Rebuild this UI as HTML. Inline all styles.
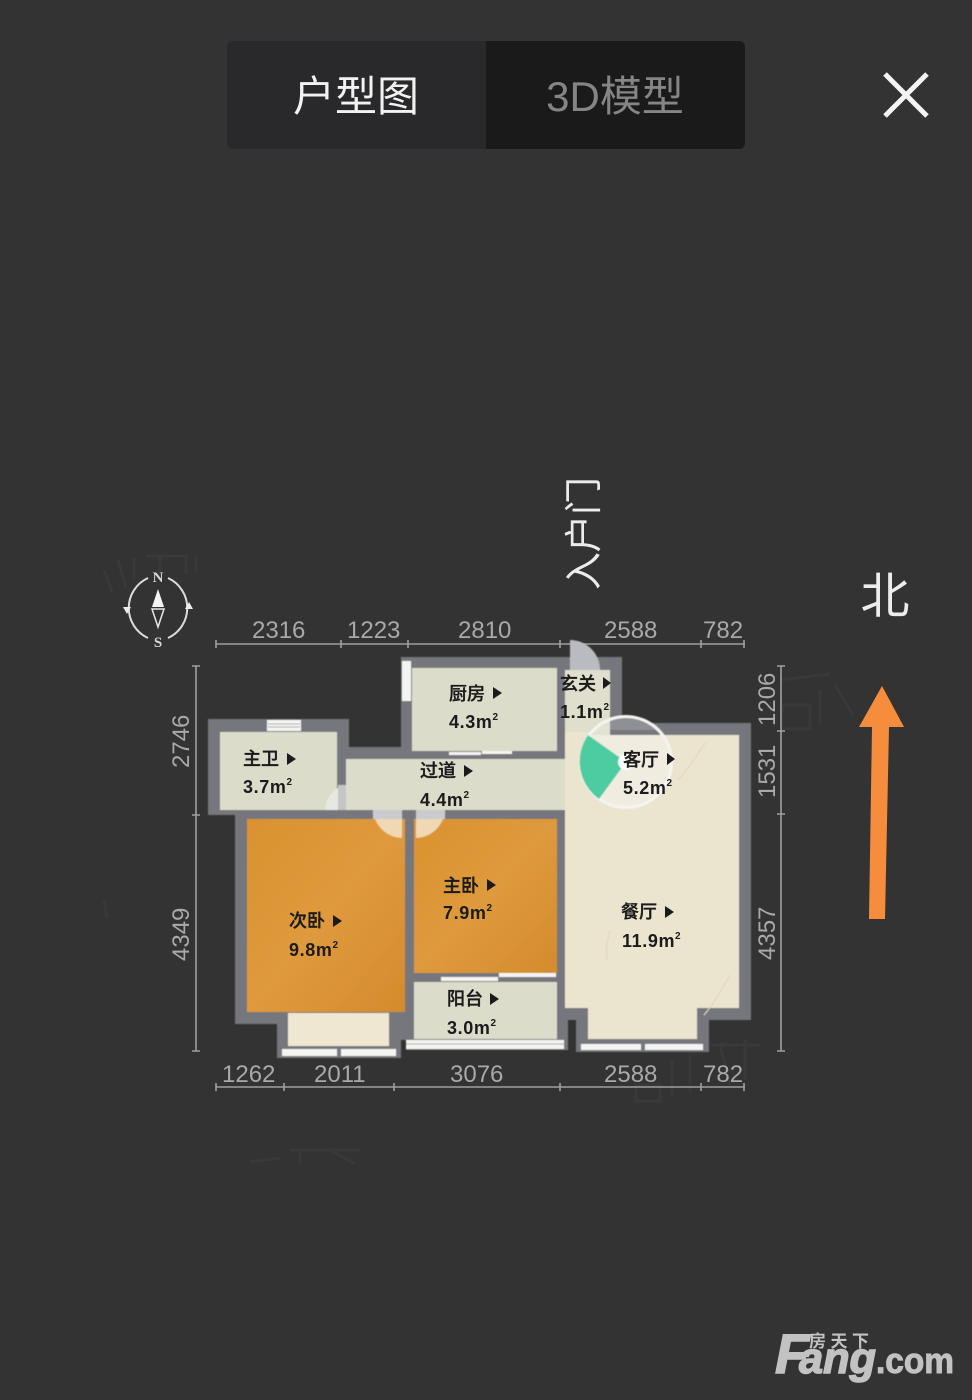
<!DOCTYPE html>
<html><head><meta charset="utf-8"><style>
html,body{margin:0;padding:0;background:#333333;width:972px;height:1400px;overflow:hidden}
svg{display:block;font-family:"Liberation Sans","Noto Sans CJK SC",sans-serif}
.d{font-size:24px;fill:#a9a9a9}
.n{font-size:18px;fill:#1b1b1b;font-weight:500;stroke:#1b1b1b;stroke-width:.35}
.a{font-size:18px;fill:#1b1b1b;font-weight:700;letter-spacing:.6px}
.l{stroke:#a0a0a0;stroke-width:1.6;fill:none}
.w{fill:#f4f4f2}
</style></head><body>
<svg width="972" height="1400" viewBox="0 0 972 1400" xmlns="http://www.w3.org/2000/svg">
<defs>
<linearGradient id="wood" x1="0" y1="0" x2="1" y2="1"><stop offset="0" stop-color="#d9922f"/><stop offset=".5" stop-color="#df9a3d"/><stop offset="1" stop-color="#d48b2c"/></linearGradient>
<filter id="b"><feGaussianBlur stdDeviation=".45"/></filter>
<clipPath id="pano"><circle cx="626" cy="762" r="46"/></clipPath>
</defs>
<rect width="972" height="1400" fill="#333333"/>
<!-- header -->
<rect x="227" y="41" width="518" height="108" rx="6" fill="#29292b"/>
<path d="M486 41H739a6 6 0 0 1 6 6V143a6 6 0 0 1-6 6H486Z" fill="#1a1a1b"/>
<text x="356" y="111" font-size="42" fill="#f2f2f2" text-anchor="middle">户型图</text>
<text x="615" y="111" font-size="42" fill="#858585" text-anchor="middle">3D模型</text>
<path d="M885 74 927 116M927 74 885 116" stroke="#f5f5f5" stroke-width="5" fill="none"/>
<!-- labels outside -->
<text transform="translate(597,590) rotate(-90)" font-size="38" fill="#ececec" textLength="113" lengthAdjust="spacing">入户门</text>
<text x="885" y="613" font-size="49" fill="#ececec" text-anchor="middle">北</text>
<path d="M859 727 882 686 904 727 889 727 885 919 869 919 872 727Z" fill="#f58d3d"/>
<!-- watermarks -->
<g stroke="#39393a" stroke-width="3" fill="none">
<path d="M104 570l8 22M118 560l8 28M134 558v22M146 556h40v18M160 556v24M196 556v16"/>
<path d="M782 705h28v24h-28zM820 690v34M835 685l18 30M780 680l50-6"/>
<path d="M636 1085h24v16h-24zM672 1060v36M690 1055v38M710 1045h50M720 1045l10 40M745 1040v40"/>
<path d="M250 1162l30-4M290 1150h70M300 1150v14M330 1150l25 14"/>
<path d="M104 900l3 18"/>
</g>
<!-- compass -->
<g fill="none" stroke="#dcdcdc" stroke-width="2">
<path d="M148 578A33 33 0 0 0 148 638M168 578A33 33 0 0 1 168 638"/>
</g>
<polygon points="123,607 131,607 127,614" fill="#eee"/>
<polygon points="185,609 193,609 189,602" fill="#eee"/>
<polygon points="158,589 152,607 164,607" fill="#f5f5f5"/>
<polygon points="152,609 164,609 158,627" fill="none" stroke="#e8e8e8" stroke-width="1.5"/>
<text x="158" y="582" font-size="15" font-weight="700" fill="#d8d8d8" text-anchor="middle" font-family="Liberation Serif,serif">N</text>
<text x="158" y="647" font-size="15" font-weight="700" fill="#d8d8d8" text-anchor="middle" font-family="Liberation Serif,serif">S</text>
<!-- dimensions -->
<g class="l">
<path d="M216 644H745M216 640v8M341 640v8M408 640v8M560 640v8M701 640v8M744 640v8"/>
<path d="M216 1087H745M216 1083v8M284 1083v8M394 1083v8M560 1083v8M701 1083v8M744 1083v8"/>
<path d="M196 666V1051M192 666h8M192 815h8M192 1051h8"/>
<path d="M781 666V1051M777 666h8M777 731h8M777 814h8M777 1051h8"/>
</g>
<g class="d">
<text x="252" y="638">2316</text><text x="347" y="638">1223</text><text x="458" y="638">2810</text><text x="604" y="638">2588</text><text x="703" y="638">782</text>
<text x="222" y="1082">1262</text><text x="314" y="1082">2011</text><text x="450" y="1082">3076</text><text x="604" y="1082">2588</text><text x="703" y="1082">782</text>
<text transform="translate(189,768) rotate(-90)">2746</text>
<text transform="translate(189,961) rotate(-90)">4349</text>
<text transform="translate(775,726) rotate(-90)">1206</text>
<text transform="translate(775,798) rotate(-90)">1531</text>
<text transform="translate(775,960) rotate(-90)">4357</text>
</g>
<g filter="url(#b)">
<!-- walls -->
<path d="M208 719H349V747H401V657H622V723H751V1020H709V1052H576V1020H568V1050H406V1040H401V1058H277V1024H235V815H208Z" fill="#74777c"/>
<!-- floors -->
<rect x="220" y="732" width="117" height="78" fill="#dcdccb"/>
<rect x="346" y="759" width="220" height="51" fill="#dcdccb"/>
<rect x="412" y="668" width="145" height="83" fill="#dcdccb"/>
<rect x="414" y="982" width="143" height="57" fill="#dcdccb"/>
<path d="M565 670H610V735H739V1008H697V1039H588V1008H565Z" fill="#ebe4cf"/>
<path d="M565 670H610V732H565Z" fill="#e0dfce"/>
<rect x="247" y="819" width="158" height="193" fill="url(#wood)"/>
<rect x="414" y="819" width="143" height="154" fill="url(#wood)"/>
<rect x="288" y="1013" width="101" height="33" fill="#f0e7d3"/>
<path d="M706 742q-20 30-28 38M610 930q-6 20-2 30M730 975q-14 26-26 40" stroke="#e0d6bd" stroke-width="1.1" fill="none"/>
<!-- windows -->
<rect x="267" y="720" width="34" height="11" class="w"/>
<path d="M268 724H300M268 727H300" stroke="#a8a8a8" stroke-width="1"/>
<rect x="402" y="661" width="9" height="40" class="w"/>
<rect x="449" y="752" width="32" height="3" class="w"/>
<rect x="482" y="751" width="30" height="3" class="w"/>
<rect x="282" y="1049" width="55" height="7" class="w"/>
<rect x="341" y="1049" width="55" height="7" class="w"/>
<rect x="441" y="977" width="57" height="4" class="w"/>
<rect x="499" y="973" width="57" height="4" class="w"/>
<rect x="406" y="1040" width="158" height="9" class="w"/>
<path d="M406 1044H564" stroke="#a8a8a8" stroke-width="1"/>
<rect x="581" y="1044" width="60" height="6" class="w"/>
<rect x="645" y="1044" width="58" height="6" class="w"/>
<!-- doors -->
<path d="M570 640A30 30 0 0 1 600 670H570Z" fill="#b9bbc0"/>
<path d="M345 785V810H325A26 26 0 0 1 345 785Z" fill="#e8e8e3"/>
<rect x="338" y="785" width="8" height="25" fill="#c4c5c6"/>
<path d="M373 810H402V838A30 30 0 0 1 373 810Z" fill="#f0d8b4"/>
<rect x="373" y="810" width="29" height="9" fill="#c9cbcf"/>
<path d="M416 810H445A30 30 0 0 1 416 838Z" fill="#f0d8b4"/>
<rect x="416" y="810" width="29" height="9" fill="#c9cbcf"/>
<!-- panorama -->
<circle cx="626" cy="762" r="46" fill="#f0ede0"/>
<g clip-path="url(#pano)">
<path d="M570 700H670V735H610V723H570Z" fill="#8f9093"/>
<path d="M565 700H610V735H565Z" fill="#e3e2d4"/>
<path d="M610 730H670V735H610Z" fill="#74777c"/>
</g>
<circle cx="626" cy="762" r="45.5" fill="none" stroke="#f5f5f1" stroke-width="3"/>
<path d="M588 735A46 46 0 0 0 599 799L626 762Z" fill="#4dcca2"/>
<circle cx="626" cy="762" r="8" fill="#fbfbf9"/>
</g>
<!-- room labels -->
<g>
<text x="243" y="765" class="n">主卫</text><polygon points="287,753 296,759 287,765" fill="#1b1b1b"/><text x="243" y="793" class="a">3.7m<tspan font-size="10" dy="-8">2</tspan></text>
<text x="449" y="700" class="n">厨房</text><polygon points="493,687 502,693 493,699" fill="#1b1b1b"/><text x="449" y="728" class="a">4.3m<tspan font-size="10" dy="-8">2</tspan></text>
<text x="420" y="777" class="n">过道</text><polygon points="464,765 473,771 464,777" fill="#1b1b1b"/><text x="420" y="806" class="a">4.4m<tspan font-size="10" dy="-8">2</tspan></text>
<text x="560" y="690" class="n">玄关</text><polygon points="603,677 611,683 603,689" fill="#1b1b1b"/><text x="560" y="718" class="a">1.1m<tspan font-size="10" dy="-8">2</tspan></text>
<text x="623" y="766" class="n">客厅</text><polygon points="667,753 675,759 667,765" fill="#1b1b1b"/><text x="623" y="794" class="a">5.2m<tspan font-size="10" dy="-8">2</tspan></text>
<text x="289" y="927" class="n">次卧</text><polygon points="333,915 342,921 333,927" fill="#1b1b1b"/><text x="289" y="956" class="a">9.8m<tspan font-size="10" dy="-8">2</tspan></text>
<text x="443" y="892" class="n">主卧</text><polygon points="487,879 496,885 487,891" fill="#1b1b1b"/><text x="443" y="919" class="a">7.9m<tspan font-size="10" dy="-8">2</tspan></text>
<text x="447" y="1005" class="n">阳台</text><polygon points="490,993 499,999 490,1005" fill="#1b1b1b"/><text x="447" y="1034" class="a">3.0m<tspan font-size="10" dy="-8">2</tspan></text>
<text x="621" y="918" class="n">餐厅</text><polygon points="665,906 674,912 665,918" fill="#1b1b1b"/><text x="622" y="947" class="a">11.9m<tspan font-size="10" dy="-8">2</tspan></text>
</g>
<!-- logo -->
<g fill="#c2c2c2" stroke="#c2c2c2" font-weight="700">
<text x="775" y="1373" font-size="56" font-style="italic" stroke-width="1.5">F</text>
<text x="799" y="1373" font-size="44" font-style="italic" stroke-width="1.5" textLength="77" lengthAdjust="spacingAndGlyphs">ang</text>
<text x="876" y="1373" font-size="36" stroke-width="1" textLength="78" lengthAdjust="spacingAndGlyphs">.com</text>
<text x="809" y="1347" font-size="17" stroke="none" textLength="60">房天下</text>
</g>
</svg>
</body></html>
